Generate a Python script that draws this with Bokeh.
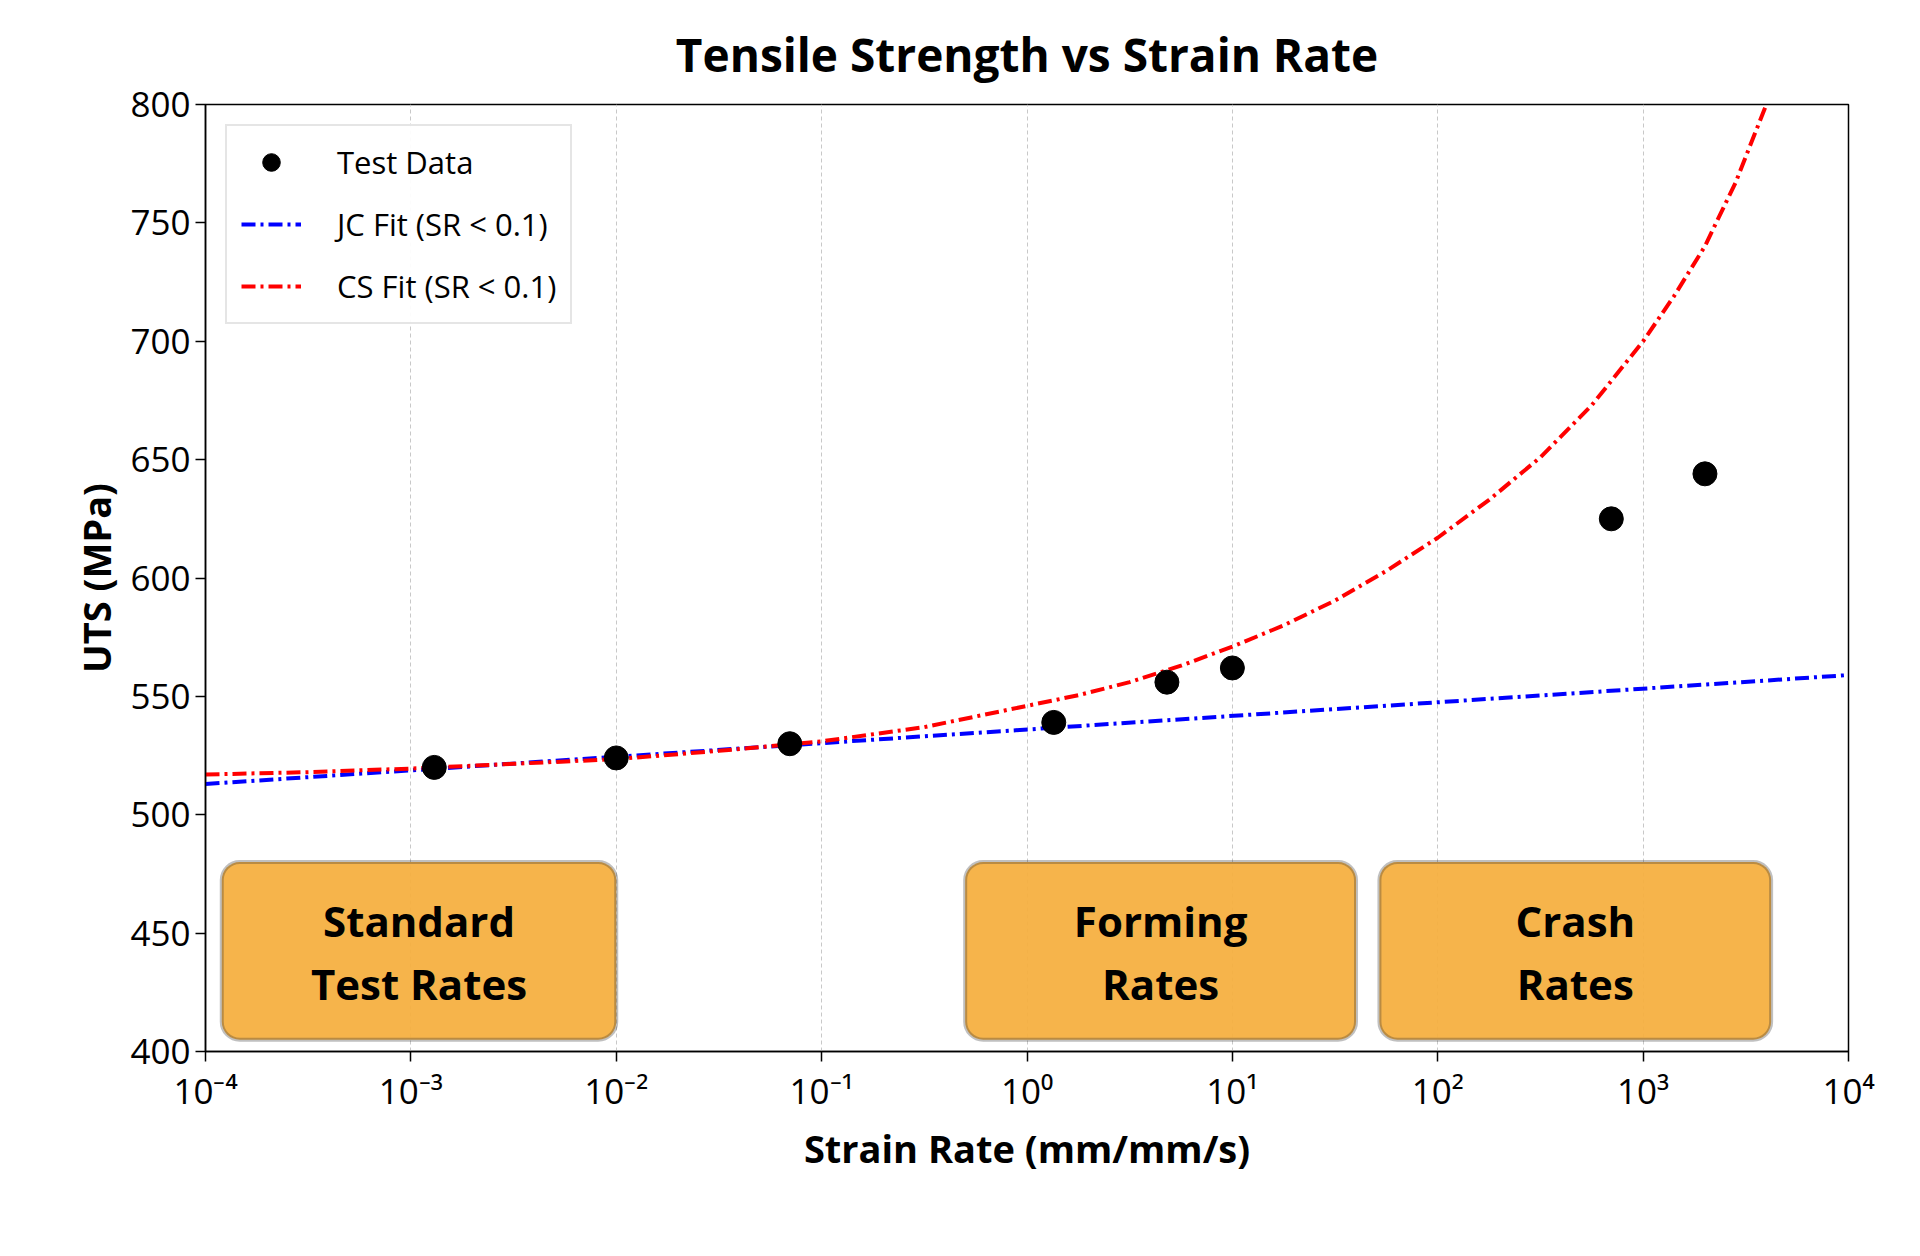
from bokeh.plotting import figure
from bokeh.models import BoxAnnotation, Legend, LegendItem, CustomJSTickFormatter, FixedTicker, Range1d
from bokeh.core.properties import value
from bokeh.embed import file_html
from bokeh.resources import INLINE

test_sr = [1.3e-3, 1e-2, 0.07, 1.35, 4.8, 10, 700, 2000]
test_uts = [520, 524, 530, 539, 556, 562, 625, 644]

jc_sr = [1e-4, 1e4]
jc_uts = [513, 559]

cs_sr = [1e-4, 10**-3.5, 1e-3, 10**-2.5, 1e-2, 10**-1.5, 1e-1, 10**-0.5, 1, 10**0.25, 10**0.5, 10**0.75, 10,
         10**1.25, 10**1.5, 10**1.75, 100, 10**2.25, 10**2.5, 10**2.75, 1000, 10**3.15, 10**3.3, 10**3.45, 10**3.6]
cs_uts = [517, 518, 519.5, 521.5, 523.5, 527, 531, 537, 546, 550.5, 556, 563, 571, 580, 590.5, 603, 617, 633, 651, 673, 700, 719, 740, 767, 800]

regions = [("Standard\nTest Rates", 1.2e-4, 1e-2), ("Forming\nRates", 0.5, 40), ("Crash\nRates", 52, 4200)]

F = "Open Sans"
p = figure(x_axis_type="log", output_backend="svg", toolbar_location=None,
           frame_width=1643, frame_height=947, min_border_left=205, min_border_right=50,
           min_border_top=100, min_border_bottom=130,
           x_range=Range1d(1e-4, 1e4), y_range=Range1d(400, 800))
p.title.text = "Tensile Strength vs Strain Rate"
p.title.align = "center"
p.title.text_font = F
p.title.text_font_size = "46px"
p.title.text_font_style = "bold"
p.title.text_color = "black"
p.title.standoff = 40

p.outline_line_color = "black"
p.outline_line_width = 1.5
p.ygrid.visible = False
p.xgrid.grid_line_dash = "4 3"
p.xgrid.grid_line_color = "#c8c8c8"
p.xgrid.grid_line_width = 1

p.xaxis.ticker = FixedTicker(ticks=[10.0**k for k in range(-4, 5)])
p.xaxis.formatter = CustomJSTickFormatter(code="""
const e = Math.round(Math.log10(tick));
const sup = {'-':'\u207b','0':'\u2070','1':'\u00b9','2':'\u00b2','3':'\u00b3','4':'\u2074','5':'\u2075','6':'\u2076','7':'\u2077','8':'\u2078','9':'\u2079'};
return '10' + String(e).split('').map(c => sup[c]).join('');
""")
p.yaxis.ticker = FixedTicker(ticks=list(range(400, 801, 50)))
for ax in (p.xaxis, p.yaxis):
    ax.major_label_text_font = F
    ax.major_label_text_font_size = "35px"
    ax.major_label_text_color = "black"
    ax.axis_label_text_font = F
    ax.axis_label_text_font_size = "38px"
    ax.axis_label_text_font_style = "bold"
    ax.axis_label_text_color = "black"
    ax.minor_tick_line_color = None
    ax.major_tick_out = 10
    ax.major_tick_in = 0
    ax.axis_line_width = 1.5
    ax.major_tick_line_width = 1.5
p.xaxis.axis_label = "Strain Rate (mm/mm/s)"
p.yaxis.axis_label = "UTS (MPa)"

for label, x0, x1 in regions:
    p.add_layout(BoxAnnotation(left=x0, right=x1, bottom=405, top=480, fill_color="#f5b041",
                               fill_alpha=0.95, line_color="#2e2e2e", line_width=4, border_radius=18,
                               level="underlay"))
    p.text(x=[(x0 * x1) ** 0.5], y=[442], text=[label], text_align="center", text_baseline="middle",
           text_font=value(F), text_font_style="bold", text_font_size="42px", text_line_height=1.1,
           text_color="black")

r_jc = p.line(jc_sr, jc_uts, line_color="blue", line_width=4, line_dash="14 5 3 5")
r_cs = p.line(cs_sr, cs_uts, line_color="red", line_width=4, line_dash="14 5 3 5")
r_pts = p.scatter(test_sr, test_uts, size=24, color="black")

leg = Legend(items=[LegendItem(label="Test Data", renderers=[r_pts]),
                    LegendItem(label="JC Fit (SR < 0.1)", renderers=[r_jc]),
                    LegendItem(label="CS Fit (SR < 0.1)", renderers=[r_cs])],
             location="top_left", label_text_font=F, label_text_font_size="31px", label_text_color="black",
             glyph_width=60, glyph_height=44, spacing=18, padding=14, margin=20,
             border_line_color="#cccccc", border_line_width=2, label_standoff=36)
p.add_layout(leg)

open("out.html", "w").write(file_html(p, INLINE))
